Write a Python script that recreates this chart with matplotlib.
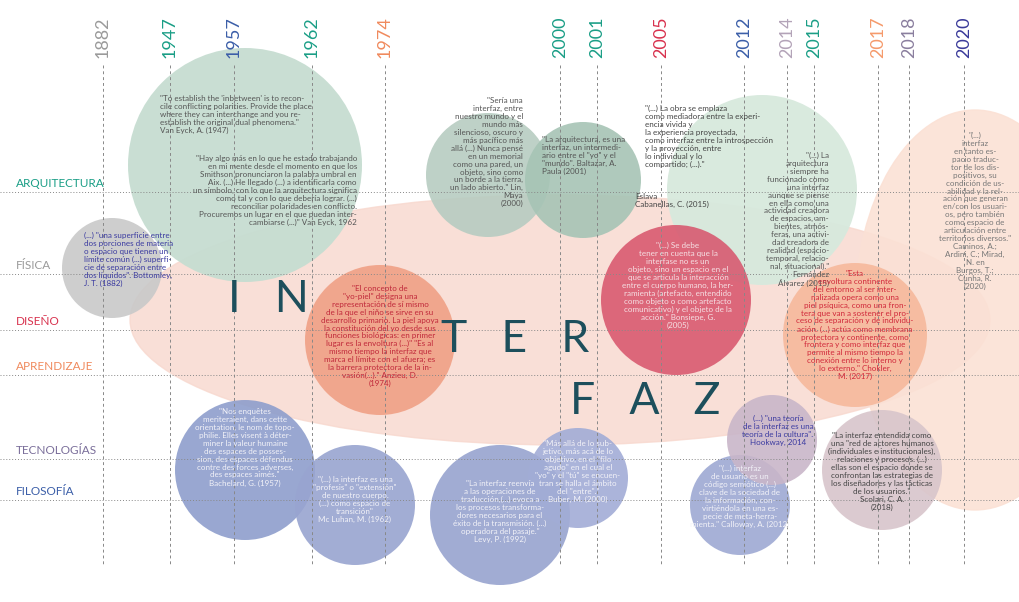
import matplotlib.pyplot as plt
from matplotlib.patches import Circle, Ellipse

plt.rcParams['font.family'] = ['Lato', 'DejaVu Sans']

# timeline data
years = ['1882', '1947', '1957', '1962', '1974', '2000', '2001', '2005',
         '2012', '2014', '2015', '2017', '2018', '2020']
year_x = [103, 170, 234, 312, 385, 560, 597, 661, 744, 787, 814, 878, 909, 964]
year_col = ['#9a9a9a', '#1a9e86', '#3b5ea8', '#1a9e86', '#f08a5d', '#1a9e86', '#1a9e86',
            '#d8324e', '#3b5ea8', '#b3a3b8', '#1a9e86', '#f59a6b', '#8a7e9e', '#3a3a9a']

rows = ['ARQUITECTURA', 'FÍSICA', 'DISEÑO', 'APRENDIZAJE', 'TECNOLOGÍAS', 'FILOSOFÍA']
row_y = [192, 274, 330, 375, 459, 500]
row_col = ['#1a9e86', '#9a9a9a', '#d8324e', '#f08a5d', '#7a6e9a', '#3b5ea8']

# bubbles: x, y, r, colour, alpha
bubbles = [
    (245, 165, 117, '#c6ddd1', 0.95),
    (112, 268, 50, '#c9c9c9', 0.9),
    (488, 175, 62, '#b7ccc1', 0.9),
    (583, 180, 58, '#a6c4b5', 0.9),
    (762, 190, 95, '#d7e9dd', 0.95),
    (676, 300, 75, '#d7526a', 0.85),
    (380, 340, 75, '#f0a085', 0.9),
    (855, 335, 72, '#f6b99c', 0.9),
    (245, 470, 70, '#8e9ecc', 0.9),
    (355, 505, 60, '#98a4d0', 0.9),
    (500, 515, 70, '#97a3cf', 0.9),
    (578, 478, 50, '#a2acd6', 0.9),
    (740, 505, 50, '#9ea9d3', 0.9),
    (772, 440, 45, '#c9b6c9', 0.9),
    (882, 470, 60, '#d8c5cb', 0.9),
]

fig = plt.figure(figsize=(10.2, 6.02), dpi=100)
ax = fig.add_axes([0, 0, 1, 1])
ax.set_xlim(0, 1020)
ax.set_ylim(602, 0)
ax.axis('off')

# background blobs
ax.add_patch(Ellipse((560, 320), 860, 250, color='#f8d8ce', alpha=0.8, zorder=1))
ax.add_patch(Ellipse((975, 310), 240, 400, color='#fbe1d5', alpha=0.9, zorder=1))
for x, y, r, c, a in bubbles:
    ax.add_patch(Circle((x, y), r, color=c, alpha=a, zorder=2, lw=0))

for x, yr, c in zip(year_x, years, year_col):
    ax.plot([x, x], [65, 565], ls=(0, (3, 3)), color='#888888', lw=0.7, zorder=3)
    ax.text(x, 58, yr, rotation=90, ha='center', va='bottom', fontsize=13, color=c, zorder=4)

for y, lab, c in zip(row_y, rows, row_col):
    ax.plot([0, 1020], [y, y], ls=(0, (1, 2)), color='#888888', lw=0.7, zorder=3)
    ax.text(16, y - 3, lab, ha='left', va='bottom', fontsize=8.5, color=c, zorder=4)

# big title letters
for txt, x, y in [('I   N', 268, 300), ('T   E   R', 515, 340), ('F   A   Z', 645, 402)]:
    ax.text(x, y, txt, ha='center', va='center', fontsize=32, color='#1d4f5c', zorder=5)

quotes = [
    (160, 95, 'left', '#555555', '"To establish the \'inbetween\' is to recon-\ncile conflicting polarities. Provide the place\nwhere they can interchange and you re-\nestablish the original dual phenomena."\nVan Eyck, A. (1947)'),
    (357, 155, 'right', '#555555', '"Hay algo más en lo que he estado trabajando\nen mi mente desde el momento en que los\nSmithson pronunciaron la palabra umbral en\nAix. (...) He llegado (...) a identificarla como\nun símbolo, con lo que la arquitectura significa\ncomo tal y con lo que debería lograr. (...)\nreconciliar polaridades en conflicto.\nProcuremos un lugar en el que puedan inter-\ncambiarse (...)" Van Eyck, 1962'),
    (84, 232, 'left', '#3a3aa0', '(...) "una superficie entre\ndos porciones de materia\no espacio que tienen un\nlímite común (...) superfi-\ncie de separación entre\ndos líquidos". Bottomley,\nJ. T. (1882)'),
    (523, 97, 'right', '#555555', '"Sería una\ninterfaz, entre\nnuestro mundo y el\nmundo más\nsilencioso, oscuro y\nmás pacífico más\nallá (...) Nunca pensé\nen un memorial\ncomo una pared, un\nobjeto, sino como\nun borde a la tierra,\nun lado abierto." Lin,\nMaya\n(2000)'),
    (542, 136, 'left', '#555555', '"La arquitectura, es una\ninterfaz, un intermedi-\nario entre el "yo" y el\n"mundo". Baltazar, A.\nPaula (2001)'),
    (645, 105, 'left', '#444444', '"(...) La obra se emplaza\ncomo mediadora entre la experi-\nencia vivida y\nla experiencia proyectada,\ncomo interfaz entre la introspección\ny la proyección, entre\nlo individual y lo\ncompartido; (...)."'),
    (635, 193, 'left', '#444444', 'Eslava\nCabanellas, C. (2015)'),
    (829, 152, 'right', '#555555', '"(...) La\narquitectura\nsiempre ha\nfuncionado como\nuna interfaz\naunque se piense\nen ella como una\nactividad creadora\nde espacios, am-\nbientes, atmós-\nferas, una activi-\ndad creadora de\nrealidad (espacio-\ntemporal, relacio-\nnal, situacional)."\nFernández\nÁlvarez (2015)'),
    (678, 242, 'center', '#f6e0e4', '"(...) Se debe\ntener en cuenta que la\ninterfase no es un\nobjeto, sino un espacio en el\nque se articula la interacción\nentre el cuerpo humano, la her-\nramienta (artefacto, entendido\ncomo objeto o como artefacto\ncomunicativo) y el objeto de la\nacción." Bonsiepe, G.\n(2005)'),
    (380, 285, 'center', '#c0283a', '"El concepto de\n"yo-piel" designa una\nrepresentación de sí mismo\nde la que el niño se sirve en su\ndesarrollo primario. La piel apoya\nla constitución del yo desde sus\nfunciones biológicas: en primer\nlugar es la envoltura (...)" "Es al\nmismo tiempo la interfaz que\nmarca el límite con el afuera; es\nla barrera protectora de la in-\nvasión(...)." Anzieu, D.\n(1974)'),
    (855, 270, 'center', '#d0283a', '"Esta\nenvoltura continente\ndel entorno al ser inter-\nnalizada opera como una\npiel psíquica, como una fron-\ntera que van a sostener el pro-\nceso de separación y de individu-\nación. (...) actúa como membrana\nprotectora y continente, como\nfrontera y como interfaz que\npermite al mismo tiempo la\nconexión entre lo interno y\nlo externo." Chokler,\nM. (2017)'),
    (975, 132, 'center', '#777777', '"(...)\ninterfaz\nen tanto es-\npacio traduc-\ntor de los dis-\npositivos, su\ncondición de us-\nabilidad y la rel-\nación que generan\nen/con los usuari-\nos, pero también\ncomo espacio de\narticulación entre\nterritorios diversos."\nCaminos, A.;\nArdini, C.; Mirad,\nN. en\nBurgos, T.;\nCunha, R.\n(2020)'),
    (245, 408, 'center', '#f2f2f8', '"Nos enquêtes\nmeriteraient, dans cette\norientation, le nom de topo-\nphilie. Elles visent à déter-\nminer la valeur humaine\ndes espaces de posses-\nsion, des espaces défendus\ncontre des forces adverses,\ndes espaces aimés."\nBachelard, G. (1957)'),
    (355, 476, 'center', '#f2f2f8', '"(...) la interfaz es una\n"profesis" o "extensión"\nde nuestro cuerpo.\n(...) como espacio de\ntransición"\nMc Luhan, M. (1962)'),
    (500, 480, 'center', '#f2f2f8', '"La interfaz reenvía\na las operaciones de\ntraducción,(...) evoca a\nlos procesos transforma-\ndores necesarios para el\néxito de la transmisión. (...)\noperadora del pasaje."\nLevy, P. (1992)'),
    (578, 440, 'center', '#f2f2f8', '"Más allá de lo sub-\njetivo, más acá de lo\nobjetivo, en el "filo\nagudo" en el cual el\n"yo" y el "tú" se encuen-\ntran se halla el ámbito\ndel "entre"."\nBuber, M. (2000)'),
    (740, 465, 'center', '#f2f2f8', '"(...) interfaz\nde usuario es un\ncódigo semiótico (...)\nclave de la sociedad de\nla información, con-\nvirtiéndola en una es-\npecie de meta-herra-\nmienta." Calloway, A. (2012)'),
    (778, 415, 'center', '#3a3aa0', '(...) "una teoría\nde la interfaz es una\nteoría de la cultura".\nHookway, 2014'),
    (882, 432, 'center', '#444444', '"La interfaz entendida como\nuna "red de actores humanos\n(individuales e institucionales),\nrelaciones y procesos. (...)\nellas son el espacio donde se\nconfrontan las estrategias de\nlos diseñadores y las tácticas\nde los usuarios."\nScolari, C. A.\n(2018)'),
]
for x, y, ha, c, t in quotes:
    ax.text(x, y, t, ha=ha, va='top', fontsize=5.8, color=c, zorder=6, linespacing=1.15)

fig.savefig('out.png', dpi=100)
